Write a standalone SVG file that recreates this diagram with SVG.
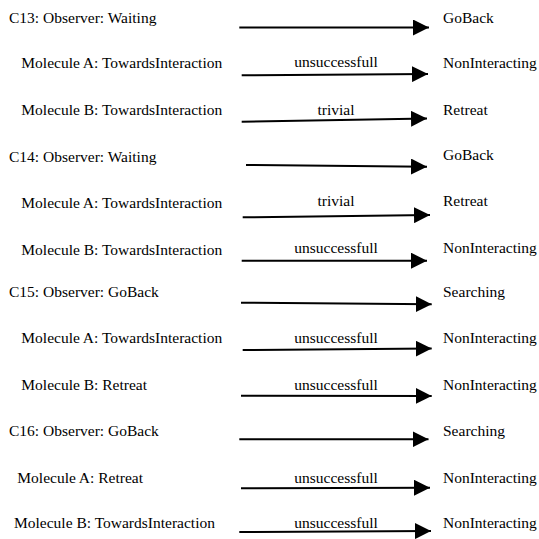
<svg xmlns="http://www.w3.org/2000/svg" width="539" height="539" viewBox="0 0 539 539">
  <style>
    text { font-family: 'Liberation Serif', 'Times New Roman', 'DejaVu Serif', serif; font-size: 15.5px; fill: #000; }
    .mid { text-anchor: middle; }
    .arrow { stroke: #000; stroke-width: 2; fill: none; marker-end: url(#head); }
  </style>
  <defs>
    <marker id="head" viewBox="0 0 16 16" refX="16" refY="8" markerWidth="16" markerHeight="16" markerUnits="userSpaceOnUse" orient="auto">
      <path d="M0,0 L16,8 L0,16 z" fill="#000"/>
    </marker>
  </defs>
  <rect width="539" height="539" fill="#fff"/>

  <!-- C13 -->
  <g id="c13-observer"><text x="9" y="23.3">C13: Observer: Waiting</text></g>
  <g id="c13-observer-to"><text x="443" y="22.7">GoBack</text></g>
  <g id="c13-molA"><text x="21.3" y="68.3">Molecule A: TowardsInteraction</text></g>
  <g id="c13-molA-to"><text x="443" y="68.3">NonInteracting</text></g>
  <g id="c13-molB"><text x="21.3" y="115">Molecule B: TowardsInteraction</text></g>
  <g id="c13-molB-to"><text x="443" y="115">Retreat</text></g>

  <!-- C14 -->
  <g id="c14-observer"><text x="9" y="161.7">C14: Observer: Waiting</text></g>
  <g id="c14-observer-to"><text x="443" y="160">GoBack</text></g>
  <g id="c14-molA"><text x="21.3" y="208.3">Molecule A: TowardsInteraction</text></g>
  <g id="c14-molA-to"><text x="443" y="206">Retreat</text></g>
  <g id="c14-molB"><text x="21.3" y="255">Molecule B: TowardsInteraction</text></g>
  <g id="c14-molB-to"><text x="443" y="252.7">NonInteracting</text></g>

  <!-- C15 -->
  <g id="c15-observer"><text x="9" y="297.3">C15: Observer: GoBack</text></g>
  <g id="c15-observer-to"><text x="443" y="297.3">Searching</text></g>
  <g id="c15-molA"><text x="21.3" y="343.3">Molecule A: TowardsInteraction</text></g>
  <g id="c15-molA-to"><text x="443" y="343.3">NonInteracting</text></g>
  <g id="c15-molB"><text x="21.3" y="390">Molecule B: Retreat</text></g>
  <g id="c15-molB-to"><text x="443" y="390">NonInteracting</text></g>

  <!-- C16 -->
  <g id="c16-observer"><text x="9" y="436">C16: Observer: GoBack</text></g>
  <g id="c16-observer-to"><text x="443" y="436">Searching</text></g>
  <g id="c16-molA"><text x="17.3" y="482.7">Molecule A: Retreat</text></g>
  <g id="c16-molA-to"><text x="443" y="482.7">NonInteracting</text></g>
  <g id="c16-molB"><text x="14" y="528.3">Molecule B: TowardsInteraction</text></g>
  <g id="c16-molB-to"><text x="443" y="528.3">NonInteracting</text></g>

  <!-- transitions -->
  <g id="connectors">
    <line class="arrow" x1="239.3" y1="27.5" x2="429" y2="27.5"/>
    <line class="arrow" x1="241.7" y1="75.3" x2="428" y2="74"/>
    <text class="mid" x="336" y="66.7">unsuccessfull</text>
    <line class="arrow" x1="241.7" y1="121.7" x2="427" y2="118.5"/>
    <text class="mid" x="336" y="115">trivial</text>

    <line class="arrow" x1="246" y1="165" x2="427" y2="166.7"/>
    <line class="arrow" x1="242.7" y1="217.3" x2="430" y2="215"/>
    <text class="mid" x="336" y="206">trivial</text>
    <line class="arrow" x1="241.7" y1="260.7" x2="427" y2="260.7"/>
    <text class="mid" x="336" y="252.7">unsuccessfull</text>

    <line class="arrow" x1="241" y1="302.7" x2="431.7" y2="304.3"/>
    <line class="arrow" x1="242.7" y1="350" x2="431.7" y2="348.5"/>
    <text class="mid" x="336" y="343.3">unsuccessfull</text>
    <line class="arrow" x1="241" y1="395.7" x2="431.7" y2="396"/>
    <text class="mid" x="336" y="390">unsuccessfull</text>

    <line class="arrow" x1="239.3" y1="439.3" x2="428.5" y2="439.3"/>
    <line class="arrow" x1="241" y1="488.3" x2="430" y2="487.7"/>
    <text class="mid" x="336" y="482.7">unsuccessfull</text>
    <line class="arrow" x1="239.3" y1="532" x2="431" y2="531"/>
    <text class="mid" x="336" y="528.3">unsuccessfull</text>
  </g>
</svg>
